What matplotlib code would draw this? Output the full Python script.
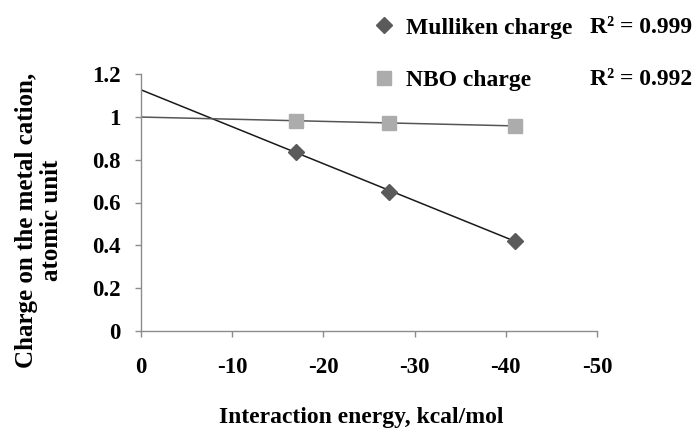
import numpy as np
import matplotlib
matplotlib.use("Agg")
import matplotlib.pyplot as plt

# Data
energy = [-17.0, -27.2, -41.0]          # Interaction energy, kcal/mol
mulliken = [0.837, 0.650, 0.422]        # Mulliken charge
nbo = [0.981, 0.973, 0.957]             # NBO charge
r2_labels = ["R\u00b2 = 0.999", "R\u00b2 = 0.992"]
series_names = ["Mulliken charge", "NBO charge"]
xticks = [0, -10, -20, -30, -40, -50]
yticks = [0, 0.2, 0.4, 0.6, 0.8, 1.0, 1.2]
ytick_labels = ["0", "0.2", "0.4", "0.6", "0.8", "1", "1.2"]

plt.rcParams['font.family'] = ['Liberation Serif', 'DejaVu Serif']
plt.rcParams['font.weight'] = 'bold'

fig = plt.figure(figsize=(7, 4.33), dpi=100)
ax = fig.add_axes([141/700, 1-331/433, (597-141)/700, (331-74)/433])

x = np.array(energy)
xfit = np.array([0.0, x.min()])
for vals, col in [(mulliken, '#1a1a1a'), (nbo, '#555555')]:
    p = np.polyfit(x, np.array(vals), 1)
    ax.plot(xfit, np.polyval(p, xfit), color=col, lw=1.1, zorder=2)

h1, = ax.plot(energy, mulliken, linestyle='none', marker='D', ms=7.8,
              color='#5a5a5a', mec='#5a5a5a', zorder=3)
h2, = ax.plot(energy, nbo, linestyle='none', marker='s', ms=10.2,
              color='#acacac', mec='#acacac', zorder=3)

ax.set_xlim(0, -50)
ax.set_ylim(0, 1.2)
ax.set_xticks(xticks)
ax.set_xticklabels([str(v) for v in xticks])
ax.set_yticks(yticks)
ax.set_yticklabels(ytick_labels)
for s in ['top', 'right']:
    ax.spines[s].set_visible(False)
for s in ['left', 'bottom']:
    ax.spines[s].set_color('#8c8c8c')
    ax.spines[s].set_linewidth(1.0)
ax.tick_params(axis='both', colors='#8c8c8c', length=4.5, width=1.0,
               labelcolor='black', labelsize=16.5)
ax.tick_params(axis='x', pad=14)
ax.tick_params(axis='y', pad=10)
for lab in ax.get_xticklabels() + ax.get_yticklabels():
    lab.set_fontweight('bold')

fig.text(361/700, 1-418/433, "Interaction energy, kcal/mol", ha='center',
         va='center', fontsize=17, fontweight='bold')
fig.text(39/700, 1-220/433, "Charge on the metal cation,\natomic unit",
         rotation=90, ha='center', va='center', multialignment='center',
         fontsize=18, fontweight='bold', linespacing=1.15)

leg = ax.legend([h1, h2], series_names, loc='upper left',
                bbox_to_anchor=(358/700, 1.0 - 3/433), bbox_transform=fig.transFigure,
                frameon=False, numpoints=1, handlelength=1.0, handletextpad=0.45,
                labelspacing=1.3, prop={'size': 17, 'weight': 'bold'},
                borderaxespad=0.2)
fig.text(590/700, 1-33/433, r2_labels[0], ha='left', va='baseline',
         fontsize=17, fontweight='bold')
fig.text(590/700, 1-85/433, r2_labels[1], ha='left', va='baseline',
         fontsize=17, fontweight='bold')

fig.savefig("out.png", dpi=100)
